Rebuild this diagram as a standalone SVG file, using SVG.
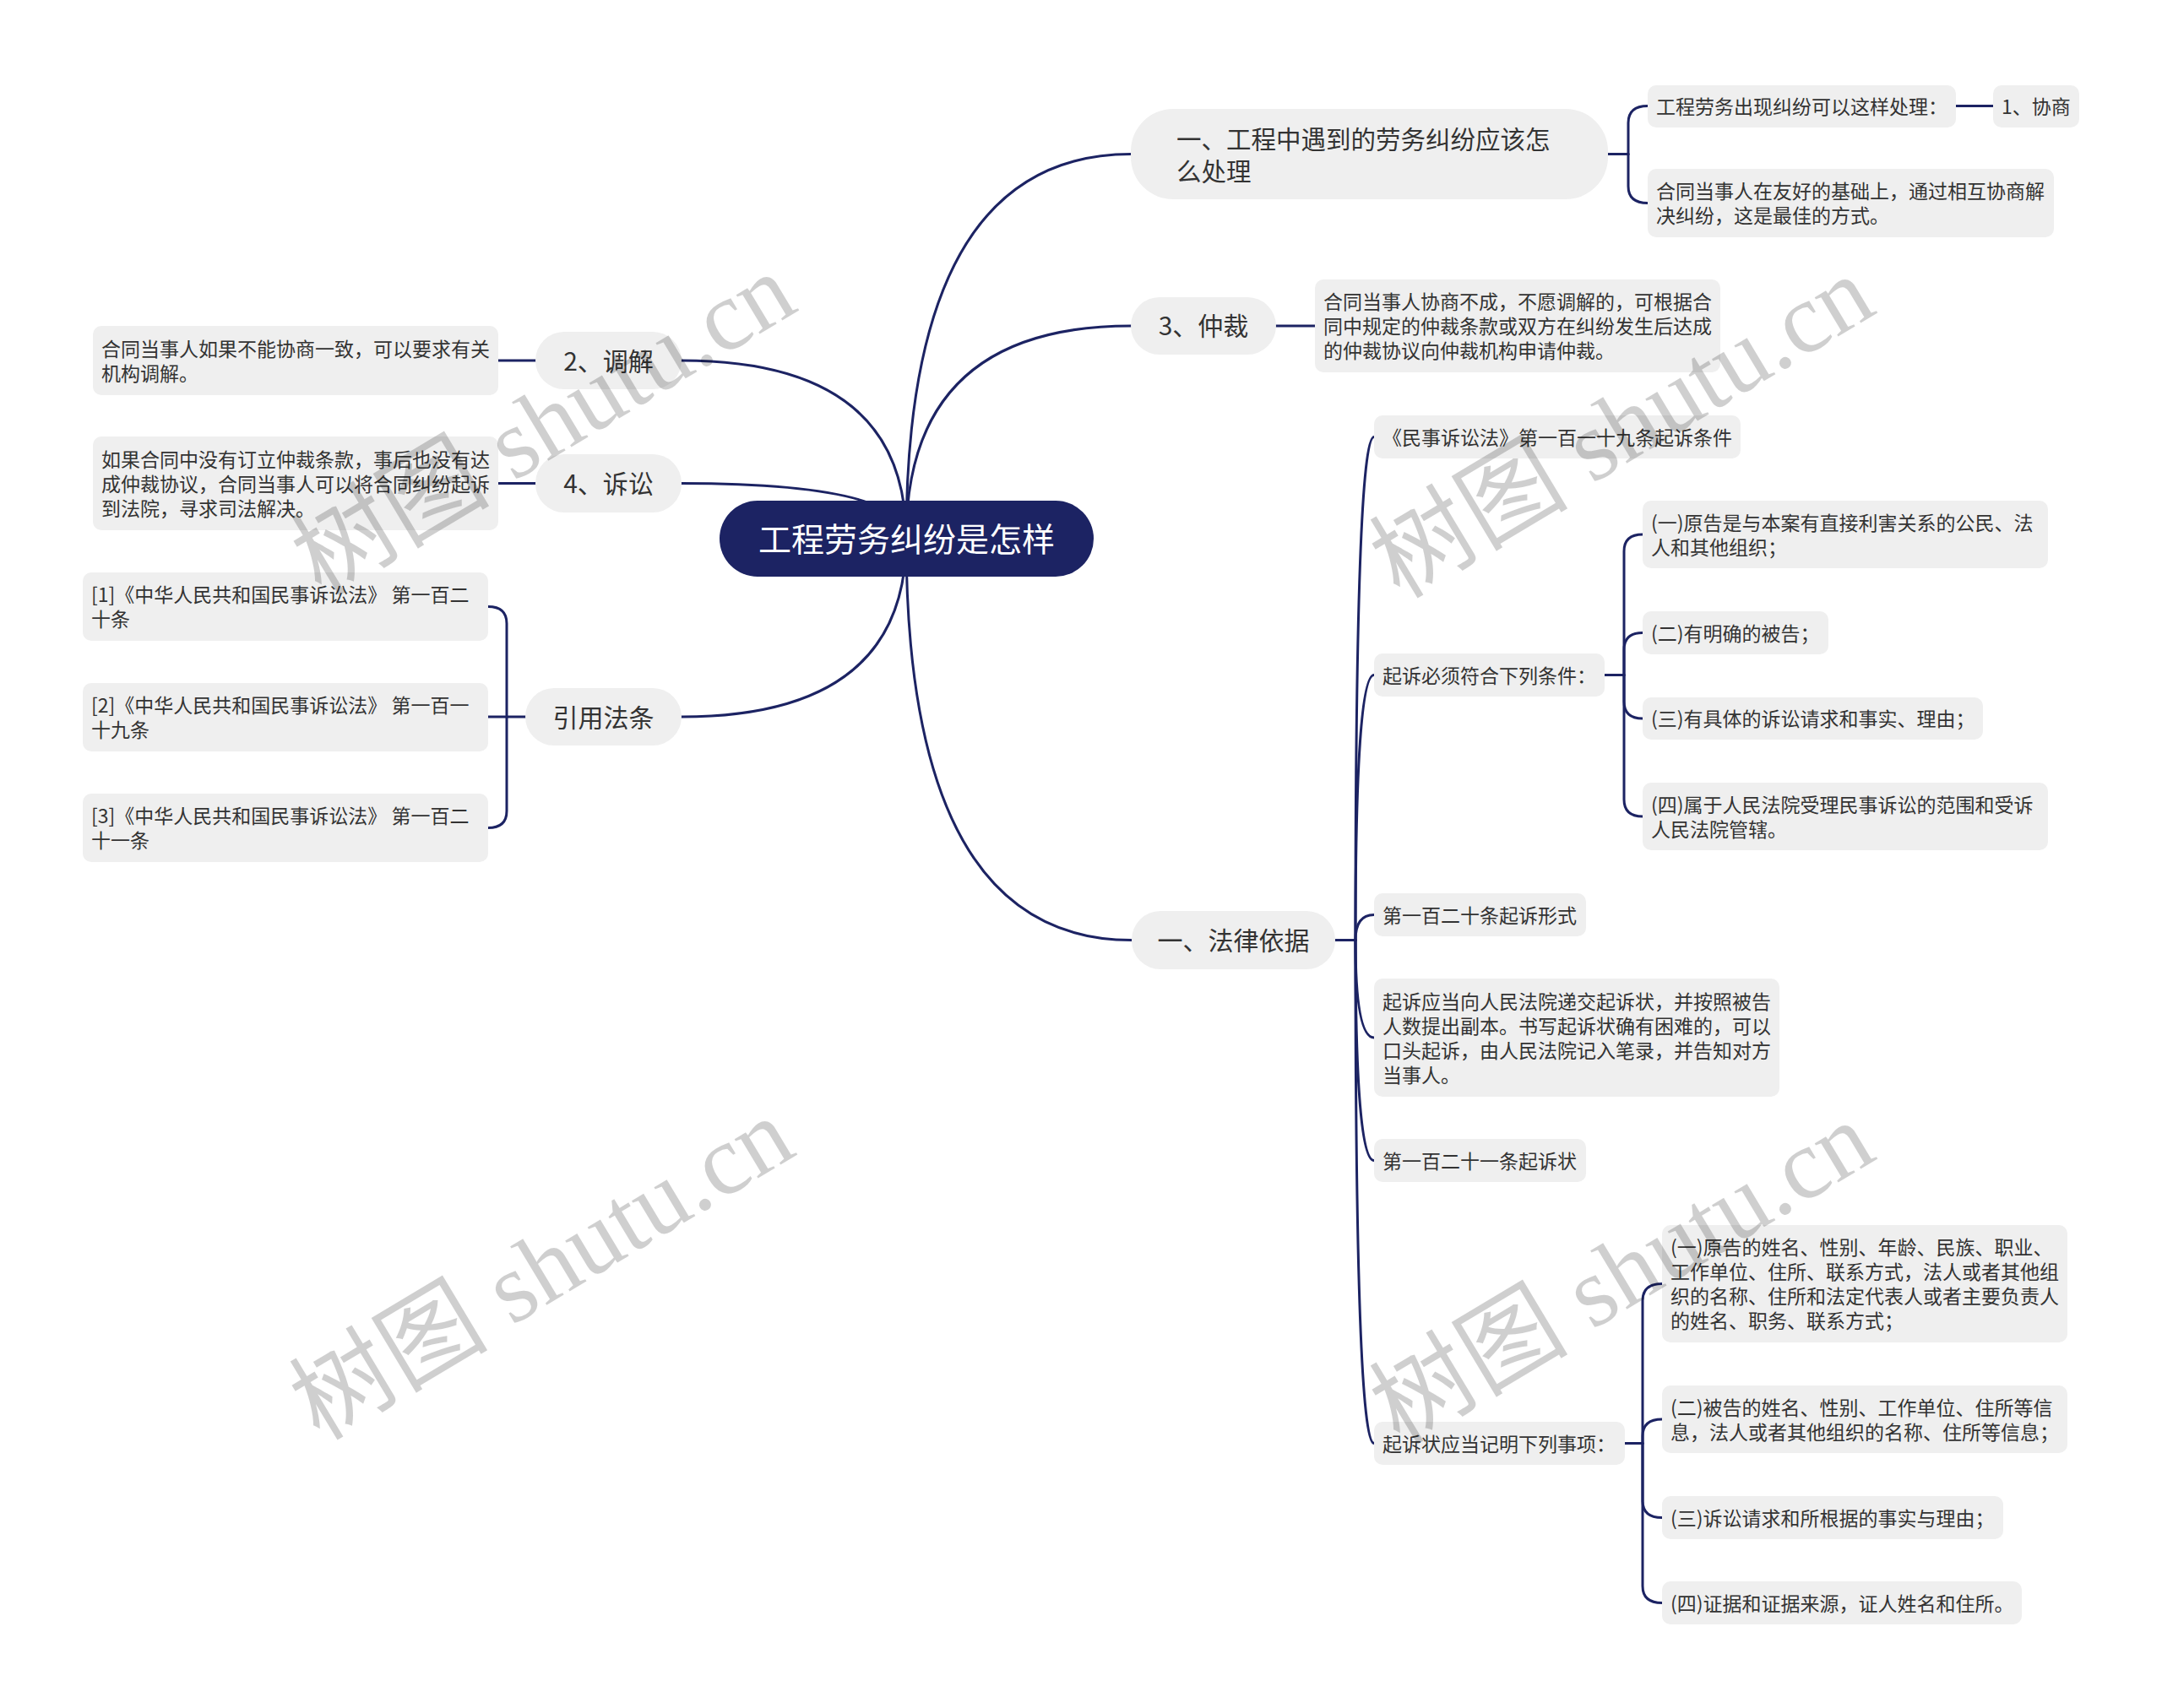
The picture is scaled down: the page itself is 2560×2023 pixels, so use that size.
<svg xmlns="http://www.w3.org/2000/svg" width="2560" height="2023" viewBox="0 0 2560 2023">
<style>
.t{font-family:"Noto Sans CJK SC","Microsoft YaHei",sans-serif;fill:#333333}
.s23{font-size:23px}
.s30{font-size:30px}
.leaf{fill:#efefef}
.br{fill:#efefef}
.conn path{fill:none;stroke:#1c2363;stroke-width:3;stroke-linecap:round}
.wm{font-family:"Liberation Serif","Noto Sans CJK SC",serif;font-size:118px;fill:#000000;fill-opacity:0.19}
</style>
<rect width="2560" height="2023" fill="#ffffff"/>
<g class="conn" id="connectors">
<path d="M1073,638 Q1073,182.5 1339,182.5"/>
<path d="M1073,638 Q1073,386 1339,386"/>
<path d="M1073,638 Q1073,1113.5 1340,1113.5"/>
<path d="M1073,638 Q1073,427 807,427"/>
<path d="M1073,638 Q1073,572.5 807,572.5"/>
<path d="M1073,638 Q1073,849 807,849"/>
<path d="M1904,182.5 L1928,182.5"/>
<path d="M1928,182.5 L1928,145.5 Q1928,125.5 1951,125.5"/>
<path d="M1928,182.5 L1928,220.5 Q1928,240.5 1951,240.5"/>
<path d="M2316,125.5 L2360,125.5"/>
<path d="M1511,386 L1557,386"/>
<path d="M1581,1113.5 L1605,1113.5"/>
<path d="M1605,1113.5 Q1605,517.5 1627,517.5"/>
<path d="M1605,1113.5 Q1605,799.5 1627,799.5"/>
<path d="M1605,1113.5 Q1605,1083.5 1627,1083.5"/>
<path d="M1605,1113.5 Q1605,1229 1627,1229"/>
<path d="M1605,1113.5 Q1605,1374.5 1627,1374.5"/>
<path d="M1605,1113.5 Q1605,1709.5 1627,1709.5"/>
<path d="M1900,799.5 L1923,799.5"/>
<path d="M1923,799.5 L1923,653 Q1923,633 1945,633"/>
<path d="M1923,799.5 L1923,769.5 Q1923,749.5 1945,749.5"/>
<path d="M1923,799.5 L1923,831 Q1923,851 1945,851"/>
<path d="M1923,799.5 L1923,947 Q1923,967 1945,967"/>
<path d="M1924,1709.5 L1945,1709.5"/>
<path d="M1945,1709.5 L1945,1540.5 Q1945,1520.5 1968,1520.5"/>
<path d="M1945,1709.5 L1945,1701 Q1945,1681 1968,1681"/>
<path d="M1945,1709.5 L1945,1777.5 Q1945,1797.5 1968,1797.5"/>
<path d="M1945,1709.5 L1945,1878.5 Q1945,1898.5 1968,1898.5"/>
<path d="M590,427 L634,427"/>
<path d="M590,572.5 L634,572.5"/>
<path d="M622,849 L578,849"/>
<path d="M600,849 L600,738.5 Q600,718.5 578,718.5"/>
<path d="M600,849 L600,960.5 Q600,980.5 578,980.5"/>
</g>
<g id="root">
<rect x="852" y="593" width="443" height="90" rx="45" fill="#1c2363"/>
<text x="1073.5" y="652.5" text-anchor="middle" font-family="Noto Sans CJK SC, sans-serif" font-size="39" fill="#ffffff">工程劳务纠纷是怎样</text>
</g>
<g id="b1">
<rect class="br" x="1339" y="129" width="565" height="107" rx="50"/>
<text class="t" font-size="29.5" x="1393" y="175.5">一、工程中遇到的劳务纠纷应该怎</text>
<text class="t" font-size="29.5" x="1393" y="213.5">么处理</text>
</g>
<g id="l1a">
<rect class="leaf" x="1951" y="101" width="365" height="50" rx="10"/>
<text class="t s23" x="1961" y="134.5">工程劳务出现纠纷可以这样处理：</text>
</g>
<g id="l1b">
<rect class="leaf" x="2360" y="101" width="102" height="50" rx="10"/>
<text class="t s23" x="2370" y="134.5">1、协商</text>
</g>
<g id="l1c">
<rect class="leaf" x="1951" y="200" width="481" height="81" rx="10"/>
<text class="t s23" x="1961" y="235">合同当事人在友好的基础上，通过相互协商解</text>
<text class="t s23" x="1961" y="264">决纠纷，这是最佳的方式。</text>
</g>
<g id="b2">
<rect class="br" x="1339" y="352" width="172" height="68" rx="34"/>
<text class="t s30" x="1425" y="397" text-anchor="middle">3、仲裁</text>
</g>
<g id="l2">
<rect class="leaf" x="1557" y="331" width="480" height="110" rx="10"/>
<text class="t s23" x="1567" y="366">合同当事人协商不成，不愿调解的，可根据合</text>
<text class="t s23" x="1567" y="395">同中规定的仲裁条款或双方在纠纷发生后达成</text>
<text class="t s23" x="1567" y="424">的仲裁协议向仲裁机构申请仲裁。</text>
</g>
<g id="b3">
<rect class="br" x="1340" y="1079" width="241" height="69" rx="34"/>
<text class="t s30" x="1460.5" y="1125" text-anchor="middle">一、法律依据</text>
</g>
<g id="a">
<rect class="leaf" x="1627" y="492" width="434" height="51" rx="10"/>
<text class="t s23" x="1637" y="526.5">《民事诉讼法》第一百一十九条起诉条件</text>
</g>
<g id="b">
<rect class="leaf" x="1627" y="774" width="273" height="51" rx="10"/>
<text class="t s23" x="1637" y="808.5">起诉必须符合下列条件：</text>
</g>
<g id="b1c">
<rect class="leaf" x="1945" y="593" width="480" height="80" rx="10"/>
<text class="t s23" x="1955" y="627.5">(一)原告是与本案有直接利害关系的公民、法</text>
<text class="t s23" x="1955" y="656.5">人和其他组织；</text>
</g>
<g id="b2c">
<rect class="leaf" x="1945" y="724" width="220" height="51" rx="10"/>
<text class="t s23" x="1955" y="758.5">(二)有明确的被告；</text>
</g>
<g id="b3c">
<rect class="leaf" x="1945" y="826" width="403" height="50" rx="10"/>
<text class="t s23" x="1955" y="860">(三)有具体的诉讼请求和事实、理由；</text>
</g>
<g id="b4c">
<rect class="leaf" x="1945" y="927" width="480" height="80" rx="10"/>
<text class="t s23" x="1955" y="961.5">(四)属于人民法院受理民事诉讼的范围和受诉</text>
<text class="t s23" x="1955" y="990.5">人民法院管辖。</text>
</g>
<g id="c">
<rect class="leaf" x="1627" y="1058" width="251" height="51" rx="10"/>
<text class="t s23" x="1637" y="1092.5">第一百二十条起诉形式</text>
</g>
<g id="d">
<rect class="leaf" x="1627" y="1159" width="480" height="140" rx="10"/>
<text class="t s23" x="1637" y="1194.5">起诉应当向人民法院递交起诉状，并按照被告</text>
<text class="t s23" x="1637" y="1223.5">人数提出副本。书写起诉状确有困难的，可以</text>
<text class="t s23" x="1637" y="1252.5">口头起诉，由人民法院记入笔录，并告知对方</text>
<text class="t s23" x="1637" y="1281.5">当事人。</text>
</g>
<g id="e">
<rect class="leaf" x="1627" y="1349" width="251" height="51" rx="10"/>
<text class="t s23" x="1637" y="1383.5">第一百二十一条起诉状</text>
</g>
<g id="f">
<rect class="leaf" x="1627" y="1684" width="297" height="51" rx="10"/>
<text class="t s23" x="1637" y="1718.5">起诉状应当记明下列事项：</text>
</g>
<g id="f1">
<rect class="leaf" x="1968" y="1451" width="480" height="139" rx="10"/>
<text class="t s23" x="1978" y="1486">(一)原告的姓名、性别、年龄、民族、职业、</text>
<text class="t s23" x="1978" y="1515">工作单位、住所、联系方式，法人或者其他组</text>
<text class="t s23" x="1978" y="1544">织的名称、住所和法定代表人或者主要负责人</text>
<text class="t s23" x="1978" y="1573">的姓名、职务、联系方式；</text>
</g>
<g id="f2">
<rect class="leaf" x="1968" y="1641" width="480" height="80" rx="10"/>
<text class="t s23" x="1978" y="1675.5">(二)被告的姓名、性别、工作单位、住所等信</text>
<text class="t s23" x="1978" y="1704.5">息，法人或者其他组织的名称、住所等信息；</text>
</g>
<g id="f3">
<rect class="leaf" x="1968" y="1772" width="404" height="51" rx="10"/>
<text class="t s23" x="1978" y="1806.5">(三)诉讼请求和所根据的事实与理由；</text>
</g>
<g id="f4">
<rect class="leaf" x="1968" y="1873" width="426" height="51" rx="10"/>
<text class="t s23" x="1978" y="1907.5">(四)证据和证据来源，证人姓名和住所。</text>
</g>
<g id="tiaojie">
<rect class="br" x="634" y="393" width="173" height="68" rx="34"/>
<text class="t s30" x="720.5" y="438.5" text-anchor="middle">2、调解</text>
</g>
<g id="tiaojie-c">
<rect class="leaf" x="110" y="386" width="480" height="82" rx="10"/>
<text class="t s23" x="120" y="421.5">合同当事人如果不能协商一致，可以要求有关</text>
<text class="t s23" x="120" y="450.5">机构调解。</text>
</g>
<g id="susong">
<rect class="br" x="634" y="538" width="173" height="69" rx="34"/>
<text class="t s30" x="720.5" y="584" text-anchor="middle">4、诉讼</text>
</g>
<g id="susong-c">
<rect class="leaf" x="110" y="517" width="480" height="111" rx="10"/>
<text class="t s23" x="120" y="552.5">如果合同中没有订立仲裁条款，事后也没有达</text>
<text class="t s23" x="120" y="581.5">成仲裁协议，合同当事人可以将合同纠纷起诉</text>
<text class="t s23" x="120" y="610.5">到法院，寻求司法解决。</text>
</g>
<g id="yinyong">
<rect class="br" x="622" y="815" width="185" height="68" rx="34"/>
<text class="t s30" x="714.5" y="860.5" text-anchor="middle">引用法条</text>
</g>
<g id="ref1">
<rect class="leaf" x="98" y="678" width="480" height="81" rx="10"/>
<text class="t s23" x="108" y="713">[1]《中华人民共和国民事诉讼法》 第一百二</text>
<text class="t s23" x="108" y="742">十条</text>
</g>
<g id="ref2">
<rect class="leaf" x="98" y="809" width="480" height="81" rx="10"/>
<text class="t s23" x="108" y="844">[2]《中华人民共和国民事诉讼法》 第一百一</text>
<text class="t s23" x="108" y="873">十九条</text>
</g>
<g id="ref3">
<rect class="leaf" x="98" y="940" width="480" height="81" rx="10"/>
<text class="t s23" x="108" y="975">[3]《中华人民共和国民事诉讼法》 第一百二</text>
<text class="t s23" x="108" y="1004">十一条</text>
</g>
<g id="watermarks">
<text class="wm" x="0" y="0" text-anchor="middle" transform="translate(664,537) rotate(-31)">树图 shutu.cn</text>
<text class="wm" x="0" y="0" text-anchor="middle" transform="translate(1941,540) rotate(-31)">树图 shutu.cn</text>
<text class="wm" x="0" y="0" text-anchor="middle" transform="translate(662,1537) rotate(-31)">树图 shutu.cn</text>
<text class="wm" x="0" y="0" text-anchor="middle" transform="translate(1941,1542) rotate(-31)">树图 shutu.cn</text>
</g>
</svg>
